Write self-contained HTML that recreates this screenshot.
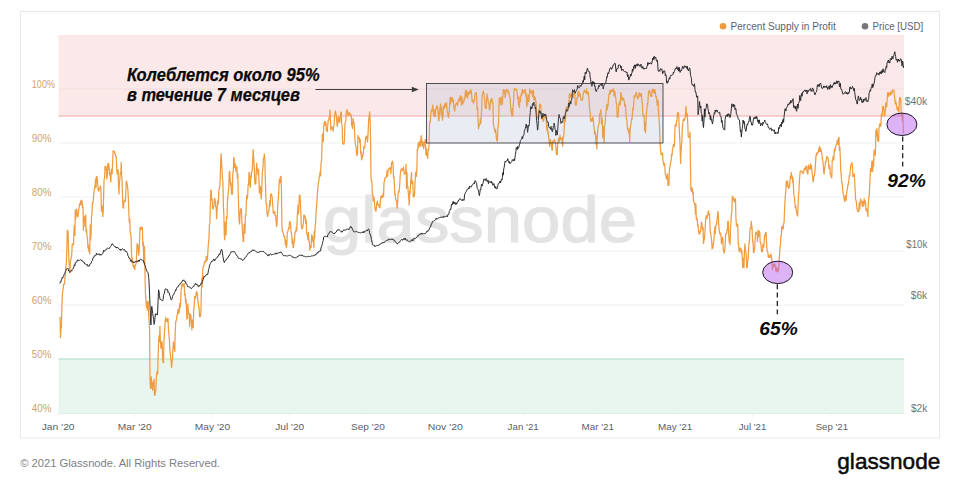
<!DOCTYPE html>
<html lang="ru"><head><meta charset="utf-8"><title>Glassnode – Percent Supply in Profit</title>
<style>
html,body{margin:0;padding:0;background:#fff;}
body{width:960px;height:487px;overflow:hidden;font-family:"Liberation Sans",sans-serif;}
svg{display:block}
text{font-family:"Liberation Sans",sans-serif;}
.yl{font-size:10.2px;fill:#cfa26e;}
.rl{font-size:10px;fill:#70737c;}
.xl{font-size:9.7px;fill:#5a5e69;}
.lg{font-size:10.2px;fill:#5e626b;}
.an{font-weight:bold;font-style:italic;fill:#0a0a0a;}
</style></head><body>
<svg width="960" height="487" viewBox="0 0 960 487">
<rect x="0" y="0" width="960" height="487" fill="#ffffff"/>
<rect x="20.5" y="11.5" width="919" height="426.5" fill="#ffffff" stroke="#e9e9eb" stroke-width="1"/>
<rect x="58.5" y="35" width="845.5" height="81" fill="#fbe9e9"/>
<rect x="58.5" y="359" width="845.5" height="54.5" fill="#e9f5ef"/>
<line x1="58.5" y1="89" x2="904" y2="89" stroke="#f3dcdc" stroke-width="1"/>
<line x1="58.5" y1="143" x2="904" y2="143" stroke="#f1f1f3" stroke-width="1"/>
<line x1="58.5" y1="197" x2="904" y2="197" stroke="#f1f1f3" stroke-width="1"/>
<line x1="58.5" y1="251" x2="904" y2="251" stroke="#f1f1f3" stroke-width="1"/>
<line x1="58.5" y1="305" x2="904" y2="305" stroke="#f1f1f3" stroke-width="1"/>
<line x1="58.5" y1="413.5" x2="904" y2="413.5" stroke="#dfeee6" stroke-width="1"/>
<line x1="58.5" y1="116" x2="904" y2="116" stroke="#efa9aa" stroke-width="1.1"/>
<line x1="58.5" y1="359" x2="904" y2="359" stroke="#a3d8bf" stroke-width="0.95"/>
<line x1="58.15" y1="413.5" x2="58.15" y2="417.5" stroke="#f2f2f4" stroke-width="1"/>
<line x1="134.7" y1="413.5" x2="134.7" y2="417.5" stroke="#f2f2f4" stroke-width="1"/>
<line x1="212.5" y1="413.5" x2="212.5" y2="417.5" stroke="#f2f2f4" stroke-width="1"/>
<line x1="289.7" y1="413.5" x2="289.7" y2="417.5" stroke="#f2f2f4" stroke-width="1"/>
<line x1="367.95" y1="413.5" x2="367.95" y2="417.5" stroke="#f2f2f4" stroke-width="1"/>
<line x1="445.29999999999995" y1="413.5" x2="445.29999999999995" y2="417.5" stroke="#f2f2f4" stroke-width="1"/>
<line x1="523.2" y1="413.5" x2="523.2" y2="417.5" stroke="#f2f2f4" stroke-width="1"/>
<line x1="597.75" y1="413.5" x2="597.75" y2="417.5" stroke="#f2f2f4" stroke-width="1"/>
<line x1="675.0999999999999" y1="413.5" x2="675.0999999999999" y2="417.5" stroke="#f2f2f4" stroke-width="1"/>
<line x1="752.55" y1="413.5" x2="752.55" y2="417.5" stroke="#f2f2f4" stroke-width="1"/>
<line x1="831.85" y1="413.5" x2="831.85" y2="417.5" stroke="#f2f2f4" stroke-width="1"/>
<text x="323" y="242" font-size="64" fill="#e3e3e4" stroke="#e3e3e4" stroke-width="1.1" textLength="314" lengthAdjust="spacingAndGlyphs">glassnode</text>
<rect x="426.5" y="83.5" width="236.5" height="59.5" fill="#aeb9d2" fill-opacity="0.19"/>
<path d="M60.0,317.1 L60.5,337.7 L60.9,329.2 L61.4,327.2 L61.8,308.7 L62.3,295.2 L62.7,291.5 L63.2,288.5 L63.6,284.2 L64.1,284.3 L64.5,283.8 L65.0,276.9 L65.4,275.7 L65.9,266.8 L66.3,263.5 L66.8,250.1 L67.2,231.1 L67.7,230.2 L68.1,232.7 L68.6,252.8 L69.0,262.9 L69.5,266.8 L69.9,272.7 L70.4,260.3 L70.8,260.4 L71.3,257.4 L71.7,255.0 L72.2,244.2 L72.6,244.7 L73.1,243.7 L73.5,244.9 L74.0,229.8 L74.4,225.3 L74.9,235.4 L75.3,209.8 L75.8,218.9 L76.2,211.8 L76.7,209.2 L77.1,214.2 L77.6,216.5 L78.0,216.5 L78.5,211.9 L78.9,208.4 L79.4,206.3 L79.8,203.4 L80.3,204.4 L80.7,201.0 L81.2,204.8 L81.6,200.1 L82.1,201.5 L82.5,207.6 L83.0,206.3 L83.4,230.3 L83.9,217.4 L84.3,220.4 L84.8,216.1 L85.2,226.5 L85.7,215.2 L86.1,231.9 L86.6,229.4 L87.0,236.1 L87.5,238.4 L87.9,248.0 L88.4,244.8 L88.8,251.2 L89.3,249.9 L89.7,253.9 L90.2,224.9 L90.6,239.6 L91.1,233.3 L91.5,217.1 L92.0,213.8 L92.4,202.6 L92.9,204.0 L93.3,200.0 L93.8,194.4 L94.2,190.8 L94.7,187.8 L95.1,184.9 L95.6,179.0 L96.0,187.7 L96.5,176.3 L96.9,176.3 L97.4,180.1 L97.8,185.1 L98.3,190.3 L98.7,191.2 L99.2,189.4 L99.6,188.0 L100.1,187.8 L100.5,185.9 L101.0,190.9 L101.4,211.2 L101.9,211.1 L102.3,206.1 L102.8,216.5 L103.2,212.0 L103.7,193.1 L104.1,178.6 L104.6,178.6 L105.0,166.3 L105.5,166.3 L105.9,166.3 L106.4,170.8 L106.8,178.9 L107.3,174.7 L107.7,163.8 L108.2,169.2 L108.6,163.5 L109.1,167.1 L109.5,175.0 L110.0,172.8 L110.4,176.6 L110.9,181.9 L111.3,169.2 L111.8,173.4 L112.2,173.9 L112.7,161.1 L113.1,150.8 L113.6,151.4 L114.0,151.1 L114.5,151.9 L114.9,154.1 L115.4,154.2 L115.8,156.3 L116.3,156.3 L116.7,169.1 L117.2,174.1 L117.6,172.3 L118.1,169.5 L118.5,185.5 L119.0,194.0 L119.4,183.8 L119.9,178.3 L120.3,172.5 L120.8,174.3 L121.2,162.5 L121.7,176.0 L122.1,181.3 L122.6,200.1 L123.0,207.4 L123.5,208.2 L123.9,201.1 L124.4,200.7 L124.8,200.3 L125.3,201.5 L125.7,194.8 L126.2,181.6 L126.6,181.1 L127.1,184.1 L127.5,186.1 L128.0,191.4 L128.4,199.6 L128.9,214.0 L129.3,222.5 L129.8,219.0 L130.2,232.0 L130.7,234.0 L131.1,237.6 L131.6,256.5 L132.0,262.5 L132.5,258.5 L132.9,264.9 L133.4,267.2 L133.8,265.4 L134.3,266.9 L134.7,269.6 L135.2,264.8 L135.6,265.1 L136.1,263.2 L136.5,257.2 L137.0,243.7 L137.4,245.8 L137.9,245.2 L138.3,252.0 L138.8,255.1 L139.2,250.7 L139.7,235.2 L140.1,227.7 L140.6,229.6 L141.0,226.9 L141.5,229.1 L141.9,229.3 L142.4,227.6 L142.8,245.5 L143.3,242.2 L143.7,262.5 L144.2,246.0 L144.6,248.3 L145.1,280.2 L145.5,294.5 L146.0,301.2 L146.4,307.4 L146.9,301.8 L147.3,310.0 L147.8,301.6 L148.2,301.4 L148.7,315.8 L149.1,320.2 L149.6,329.8 L150.0,378.8 L150.5,388.4 L150.9,386.0 L151.4,376.8 L151.8,388.2 L152.3,383.2 L152.7,390.2 L153.2,381.9 L153.6,385.5 L154.1,379.4 L154.5,395.2 L155.0,395.2 L155.4,392.5 L155.9,389.2 L156.3,377.6 L156.8,372.6 L157.2,371.3 L157.7,373.9 L158.1,354.9 L158.6,341.9 L159.0,335.6 L159.5,341.4 L159.9,326.3 L160.4,341.8 L160.8,347.4 L161.3,348.6 L161.7,341.3 L162.2,343.6 L162.6,359.3 L163.1,362.7 L163.5,362.7 L164.0,339.6 L164.4,333.1 L164.9,326.9 L165.3,320.0 L165.8,317.5 L166.2,321.3 L166.7,320.7 L167.1,319.2 L167.6,321.6 L168.0,318.5 L168.5,330.5 L168.9,334.2 L169.4,339.8 L169.8,349.6 L170.3,353.3 L170.7,357.6 L171.2,361.8 L171.6,367.7 L172.1,361.4 L172.5,358.8 L173.0,348.0 L173.4,341.9 L173.9,348.5 L174.3,345.4 L174.8,351.4 L175.2,332.3 L175.7,322.3 L176.1,320.5 L176.6,319.5 L177.0,315.7 L177.5,313.1 L177.9,310.7 L178.4,309.0 L178.8,313.4 L179.3,311.3 L179.7,303.5 L180.2,307.5 L180.6,302.9 L181.1,289.8 L181.5,289.1 L182.0,283.8 L182.4,283.8 L182.9,286.1 L183.3,283.8 L183.8,284.7 L184.2,283.8 L184.7,295.0 L185.1,293.8 L185.6,302.8 L186.0,299.1 L186.5,308.1 L186.9,319.0 L187.4,318.4 L187.8,303.9 L188.3,310.6 L188.7,313.7 L189.2,313.2 L189.6,326.5 L190.1,316.9 L190.5,314.2 L191.0,316.6 L191.4,322.7 L191.9,329.8 L192.3,320.9 L192.8,319.9 L193.2,327.4 L193.7,309.7 L194.1,308.2 L194.6,296.4 L195.0,298.7 L195.5,298.1 L195.9,295.6 L196.4,291.7 L196.8,291.9 L197.3,293.6 L197.7,299.5 L198.2,302.6 L198.6,307.2 L199.1,307.0 L199.5,316.5 L200.0,316.5 L200.4,316.5 L200.9,312.6 L201.3,293.1 L201.8,277.8 L202.2,286.7 L202.7,270.4 L203.1,267.0 L203.6,265.5 L204.0,265.5 L204.5,261.4 L204.9,262.6 L205.4,261.3 L205.8,261.4 L206.3,256.3 L206.7,260.8 L207.2,260.0 L207.6,256.3 L208.1,247.9 L208.5,242.8 L209.0,237.8 L209.4,224.7 L209.9,223.4 L210.3,206.1 L210.8,190.1 L211.2,190.1 L211.7,200.3 L212.1,199.0 L212.6,208.4 L213.0,209.0 L213.5,207.4 L213.9,206.0 L214.4,198.5 L214.8,198.8 L215.3,201.3 L215.7,206.9 L216.2,206.8 L216.6,218.7 L217.1,210.8 L217.5,201.2 L218.0,204.4 L218.4,201.6 L218.9,190.4 L219.3,188.9 L219.8,185.9 L220.2,179.1 L220.7,160.9 L221.1,153.8 L221.6,162.4 L222.0,169.5 L222.5,178.9 L222.9,181.4 L223.4,205.7 L223.8,213.2 L224.3,234.4 L224.7,239.8 L225.2,222.4 L225.6,226.2 L226.1,234.8 L226.5,216.4 L227.0,218.3 L227.4,202.9 L227.9,196.1 L228.3,192.2 L228.8,186.9 L229.2,172.4 L229.7,171.3 L230.1,178.2 L230.6,185.7 L231.0,182.3 L231.5,194.0 L231.9,194.0 L232.4,194.0 L232.8,172.5 L233.3,171.6 L233.7,157.5 L234.2,159.3 L234.6,167.7 L235.1,163.5 L235.5,167.2 L236.0,171.3 L236.4,171.7 L236.9,166.3 L237.3,178.3 L237.8,173.5 L238.2,192.6 L238.7,210.0 L239.1,221.5 L239.6,224.0 L240.0,214.4 L240.5,208.9 L240.9,212.0 L241.4,208.9 L241.8,219.2 L242.3,229.0 L242.7,235.0 L243.2,241.6 L243.6,241.6 L244.1,224.1 L244.5,224.6 L245.0,233.1 L245.4,214.8 L245.9,215.1 L246.3,204.0 L246.8,195.4 L247.2,199.0 L247.7,195.7 L248.1,184.7 L248.6,184.9 L249.0,172.6 L249.5,172.6 L249.9,185.3 L250.4,187.3 L250.8,175.8 L251.3,177.3 L251.7,171.2 L252.2,170.8 L252.6,162.9 L253.1,149.7 L253.5,154.3 L254.0,163.5 L254.4,170.9 L254.9,183.9 L255.3,183.9 L255.8,183.9 L256.2,173.0 L256.7,163.1 L257.1,170.0 L257.6,168.8 L258.0,174.6 L258.5,169.6 L258.9,178.8 L259.4,193.0 L259.8,186.6 L260.3,186.4 L260.7,192.4 L261.2,199.0 L261.6,194.8 L262.1,178.3 L262.5,171.3 L263.0,167.0 L263.4,158.5 L263.9,158.3 L264.3,154.0 L264.8,158.8 L265.2,176.0 L265.7,191.9 L266.1,203.9 L266.6,203.9 L267.0,212.4 L267.5,216.5 L267.9,215.0 L268.4,211.3 L268.8,211.8 L269.3,206.4 L269.7,200.6 L270.2,206.1 L270.6,194.7 L271.1,193.9 L271.5,194.6 L272.0,196.2 L272.4,200.9 L272.9,206.8 L273.3,213.1 L273.8,213.4 L274.2,213.1 L274.7,211.4 L275.1,215.7 L275.6,215.4 L276.0,220.2 L276.5,226.5 L276.9,225.4 L277.4,214.8 L277.8,202.9 L278.3,199.3 L278.7,193.3 L279.2,181.3 L279.6,179.1 L280.1,182.5 L280.5,176.3 L281.0,176.3 L281.4,187.2 L281.9,226.4 L282.3,230.6 L282.8,231.6 L283.2,233.2 L283.7,234.9 L284.1,237.1 L284.6,236.3 L285.0,240.1 L285.5,244.6 L285.9,240.0 L286.4,247.7 L286.8,245.6 L287.3,232.2 L287.7,231.5 L288.2,230.2 L288.6,227.7 L289.1,228.8 L289.5,221.6 L290.0,222.2 L290.4,222.2 L290.9,230.4 L291.3,232.7 L291.8,235.8 L292.2,243.4 L292.7,238.8 L293.1,247.7 L293.6,247.2 L294.0,242.0 L294.5,241.5 L294.9,233.3 L295.4,231.3 L295.8,232.2 L296.3,227.4 L296.7,230.7 L297.2,217.8 L297.6,211.3 L298.1,205.0 L298.5,213.9 L299.0,204.1 L299.4,195.0 L299.9,195.0 L300.3,199.5 L300.8,212.2 L301.2,223.9 L301.7,227.5 L302.1,228.9 L302.6,227.9 L303.0,226.0 L303.5,221.5 L303.9,215.0 L304.4,215.0 L304.8,218.0 L305.3,216.8 L305.7,223.4 L306.2,219.6 L306.6,232.2 L307.1,234.6 L307.5,235.9 L308.0,239.6 L308.4,232.3 L308.9,241.3 L309.3,241.3 L309.8,250.2 L310.2,248.2 L310.7,245.3 L311.1,247.4 L311.6,234.9 L312.0,241.6 L312.5,236.2 L312.9,240.2 L313.4,239.8 L313.8,247.7 L314.3,231.3 L314.7,237.8 L315.2,225.5 L315.6,222.8 L316.1,211.3 L316.5,208.1 L317.0,200.4 L317.4,194.4 L317.9,186.9 L318.3,183.7 L318.8,181.4 L319.2,177.2 L319.7,175.5 L320.1,171.9 L320.6,175.9 L321.0,163.2 L321.5,161.3 L321.9,149.3 L322.4,134.0 L322.8,138.8 L323.3,141.6 L323.7,126.8 L324.2,122.9 L324.6,121.7 L325.1,125.1 L325.5,121.6 L326.0,123.8 L326.4,130.4 L326.9,131.1 L327.3,131.5 L327.8,124.9 L328.2,120.2 L328.7,120.1 L329.1,117.6 L329.6,116.6 L330.0,109.9 L330.5,120.8 L330.9,130.1 L331.4,127.9 L331.8,126.7 L332.3,128.1 L332.7,128.7 L333.2,131.3 L333.6,126.4 L334.1,126.0 L334.5,116.9 L335.0,112.7 L335.4,111.0 L335.9,113.4 L336.3,115.0 L336.8,121.7 L337.2,126.3 L337.7,124.8 L338.1,117.5 L338.6,116.4 L339.0,120.6 L339.5,122.5 L339.9,121.4 L340.4,115.8 L340.8,112.0 L341.3,112.5 L341.7,124.7 L342.2,125.7 L342.6,143.1 L343.1,144.0 L343.5,143.7 L344.0,144.2 L344.4,140.8 L344.9,124.0 L345.3,122.3 L345.8,120.7 L346.2,112.3 L346.7,109.9 L347.1,109.9 L347.6,112.5 L348.0,115.9 L348.5,115.0 L348.9,113.6 L349.4,112.5 L349.8,114.5 L350.3,114.2 L350.7,116.2 L351.2,114.8 L351.6,125.4 L352.1,124.3 L352.5,128.5 L353.0,118.3 L353.4,120.1 L353.9,122.1 L354.3,125.3 L354.8,136.9 L355.2,143.6 L355.7,145.6 L356.1,147.1 L356.6,155.4 L357.0,155.4 L357.5,153.0 L357.9,135.4 L358.4,136.9 L358.8,138.3 L359.3,137.7 L359.7,142.9 L360.2,139.3 L360.6,153.5 L361.1,151.4 L361.5,159.8 L362.0,158.6 L362.4,155.2 L362.9,156.2 L363.3,153.8 L363.8,146.5 L364.2,147.1 L364.7,147.9 L365.1,143.1 L365.6,137.3 L366.0,138.3 L366.5,136.0 L366.9,136.0 L367.4,141.9 L367.8,138.6 L368.3,128.6 L368.7,119.1 L369.2,116.1 L369.6,111.9 L370.1,119.8 L370.5,136.1 L371.0,176.2 L371.4,181.2 L371.9,181.2 L372.3,194.1 L372.8,193.8 L373.2,201.0 L373.7,196.6 L374.1,198.6 L374.6,203.9 L375.0,208.9 L375.5,210.1 L375.9,211.4 L376.4,207.3 L376.8,203.1 L377.3,201.1 L377.7,204.1 L378.2,204.9 L378.6,204.2 L379.1,206.3 L379.5,207.6 L380.0,207.6 L380.4,200.5 L380.9,196.9 L381.3,195.6 L381.8,197.6 L382.2,196.9 L382.7,197.6 L383.1,193.3 L383.6,196.1 L384.0,182.1 L384.5,181.2 L384.9,178.0 L385.4,178.3 L385.8,177.9 L386.3,176.9 L386.7,174.7 L387.2,170.5 L387.6,176.3 L388.1,170.9 L388.5,168.8 L389.0,168.8 L389.4,168.2 L389.9,167.7 L390.3,168.8 L390.8,173.8 L391.2,169.1 L391.7,162.5 L392.1,162.7 L392.6,161.2 L393.0,164.2 L393.5,178.0 L393.9,176.2 L394.4,184.5 L394.8,194.9 L395.3,193.8 L395.7,199.9 L396.2,200.4 L396.6,201.2 L397.1,208.1 L397.5,205.3 L398.0,196.5 L398.4,191.3 L398.9,192.1 L399.3,190.5 L399.8,183.4 L400.2,175.5 L400.7,170.7 L401.1,169.4 L401.6,168.7 L402.0,169.6 L402.5,170.8 L402.9,169.6 L403.4,167.1 L403.8,168.5 L404.3,174.2 L404.7,173.7 L405.2,172.7 L405.6,173.7 L406.1,164.3 L406.5,188.7 L407.0,172.5 L407.4,186.3 L407.9,186.3 L408.3,193.5 L408.8,197.8 L409.2,205.1 L409.7,190.8 L410.1,193.4 L410.6,182.4 L411.0,179.1 L411.5,172.5 L411.9,183.8 L412.4,181.9 L412.8,181.2 L413.3,196.9 L413.7,193.4 L414.2,196.6 L414.6,193.4 L415.1,181.9 L415.5,173.7 L416.0,171.6 L416.4,176.3 L416.9,168.3 L417.3,149.1 L417.8,150.4 L418.2,142.9 L418.7,147.4 L419.1,143.3 L419.6,141.4 L420.0,145.2 L420.5,146.1 L420.9,138.8 L421.4,135.5 L421.8,141.1 L422.3,146.1 L422.7,141.5 L423.2,143.5 L423.6,148.7 L424.1,146.4 L424.5,141.3 L425.0,141.3 L425.4,139.3 L425.9,154.9 L426.3,148.4 L426.8,155.5 L427.2,152.8 L427.7,158.4 L428.1,149.3 L428.6,150.2 L429.0,146.6 L429.5,124.2 L429.9,121.2 L430.4,122.0 L430.8,113.8 L431.3,110.1 L431.7,111.3 L432.2,110.6 L432.6,105.1 L433.1,108.1 L433.5,113.9 L434.0,115.5 L434.4,116.5 L434.9,109.6 L435.3,116.7 L435.8,109.2 L436.2,108.1 L436.7,106.6 L437.1,105.9 L437.6,109.0 L438.0,108.7 L438.5,120.3 L438.9,120.9 L439.4,113.8 L439.8,109.9 L440.3,105.8 L440.7,103.8 L441.2,115.0 L441.6,107.7 L442.1,116.8 L442.5,120.1 L443.0,116.6 L443.4,106.5 L443.9,105.7 L444.3,108.3 L444.8,103.4 L445.2,104.0 L445.7,106.0 L446.1,107.3 L446.6,102.5 L447.0,109.9 L447.5,112.5 L447.9,114.2 L448.4,117.6 L448.8,115.5 L449.3,112.0 L449.7,103.2 L450.2,97.3 L450.6,103.8 L451.1,99.0 L451.5,97.3 L452.0,97.3 L452.4,101.5 L452.9,99.0 L453.3,100.4 L453.8,107.1 L454.2,108.7 L454.7,111.1 L455.1,106.8 L455.6,104.0 L456.0,104.0 L456.5,104.2 L456.9,102.6 L457.4,105.7 L457.8,103.9 L458.3,99.8 L458.7,101.4 L459.2,99.3 L459.6,97.3 L460.1,100.3 L460.5,95.6 L461.0,101.5 L461.4,104.9 L461.9,96.8 L462.3,102.4 L462.8,104.1 L463.2,102.7 L463.7,102.2 L464.1,98.9 L464.6,99.5 L465.0,95.6 L465.5,90.5 L465.9,96.7 L466.4,96.2 L466.8,90.5 L467.3,95.4 L467.7,98.2 L468.2,92.6 L468.6,94.4 L469.1,92.3 L469.5,94.0 L470.0,91.4 L470.4,89.7 L470.9,93.1 L471.3,90.8 L471.8,97.5 L472.2,101.6 L472.7,100.9 L473.1,100.1 L473.6,103.2 L474.0,100.9 L474.5,99.9 L474.9,94.7 L475.4,93.1 L475.8,93.1 L476.3,92.4 L476.7,98.5 L477.2,109.6 L477.6,107.4 L478.1,121.1 L478.5,128.9 L479.0,124.8 L479.4,125.9 L479.9,123.8 L480.3,118.5 L480.8,123.5 L481.2,117.7 L481.7,108.1 L482.1,95.7 L482.6,94.1 L483.0,91.7 L483.5,91.1 L483.9,93.5 L484.4,99.9 L484.8,99.9 L485.3,108.3 L485.7,108.3 L486.2,108.3 L486.6,99.7 L487.1,93.9 L487.5,97.2 L488.0,100.1 L488.4,102.8 L488.9,103.7 L489.3,109.1 L489.8,110.0 L490.2,103.7 L490.7,99.8 L491.1,101.6 L491.6,98.4 L492.0,99.3 L492.5,103.3 L492.9,102.3 L493.4,125.1 L493.8,125.7 L494.3,129.0 L494.7,131.0 L495.2,132.5 L495.6,129.3 L496.1,134.4 L496.5,139.0 L497.0,140.7 L497.4,141.1 L497.9,127.1 L498.3,126.8 L498.8,113.8 L499.2,98.7 L499.7,104.9 L500.1,97.3 L500.6,98.8 L501.0,101.2 L501.5,104.8 L501.9,97.0 L502.4,104.1 L502.8,96.5 L503.3,89.7 L503.7,89.7 L504.2,92.7 L504.6,90.6 L505.1,97.7 L505.5,95.6 L506.0,90.9 L506.4,89.7 L506.9,89.7 L507.3,91.2 L507.8,90.0 L508.2,93.1 L508.7,91.5 L509.1,94.0 L509.6,97.2 L510.0,97.4 L510.5,104.3 L510.9,110.0 L511.4,112.5 L511.8,115.9 L512.3,108.7 L512.7,115.8 L513.2,104.2 L513.6,101.5 L514.1,88.9 L514.5,89.1 L515.0,88.9 L515.4,89.9 L515.9,89.3 L516.3,88.9 L516.8,90.2 L517.2,93.1 L517.7,99.2 L518.1,96.1 L518.6,104.9 L519.0,102.0 L519.5,107.5 L519.9,97.2 L520.4,101.4 L520.8,96.5 L521.3,93.6 L521.7,95.3 L522.2,89.7 L522.6,89.7 L523.1,93.1 L523.5,92.7 L524.0,92.9 L524.4,89.7 L524.9,90.6 L525.3,89.7 L525.8,96.1 L526.2,93.4 L526.7,106.6 L527.1,97.7 L527.6,104.7 L528.0,94.8 L528.5,96.7 L528.9,101.5 L529.4,94.8 L529.8,88.9 L530.3,91.2 L530.7,92.9 L531.2,92.5 L531.6,93.1 L532.1,90.5 L532.5,96.5 L533.0,96.5 L533.4,90.5 L533.9,99.9 L534.3,96.6 L534.8,99.7 L535.2,97.3 L535.7,101.9 L536.1,101.2 L536.6,116.3 L537.0,117.1 L537.5,116.6 L537.9,116.3 L538.4,119.7 L538.8,110.5 L539.3,111.9 L539.7,104.0 L540.2,104.0 L540.6,105.7 L541.1,109.5 L541.5,113.7 L542.0,119.1 L542.4,117.1 L542.9,118.7 L543.3,121.3 L543.8,119.6 L544.2,116.8 L544.7,116.7 L545.1,114.1 L545.6,117.3 L546.0,116.7 L546.5,124.2 L546.9,130.4 L547.4,124.8 L547.8,133.6 L548.3,132.4 L548.7,137.9 L549.2,141.2 L549.6,146.4 L550.1,140.7 L550.5,139.4 L551.0,142.6 L551.4,144.6 L551.9,149.6 L552.3,150.4 L552.8,141.1 L553.2,141.6 L553.7,141.3 L554.1,140.1 L554.6,139.5 L555.0,142.6 L555.5,142.4 L555.9,146.8 L556.4,154.3 L556.8,150.0 L557.3,154.6 L557.7,144.5 L558.2,141.1 L558.6,138.1 L559.1,138.5 L559.5,141.7 L560.0,135.1 L560.4,138.7 L560.9,139.4 L561.3,139.2 L561.8,137.7 L562.2,141.7 L562.7,146.3 L563.1,137.0 L563.6,137.2 L564.0,133.6 L564.5,121.4 L564.9,118.2 L565.4,121.5 L565.8,110.8 L566.3,106.8 L566.7,109.8 L567.2,111.0 L567.6,108.3 L568.1,106.9 L568.5,108.3 L569.0,101.6 L569.4,93.9 L569.9,94.0 L570.3,96.8 L570.8,97.1 L571.2,93.9 L571.7,96.8 L572.1,95.0 L572.6,95.4 L573.0,97.6 L573.5,94.8 L573.9,92.0 L574.4,92.2 L574.8,91.9 L575.3,105.1 L575.7,105.1 L576.2,105.1 L576.6,100.8 L577.1,97.7 L577.5,98.5 L578.0,91.3 L578.4,96.1 L578.9,91.3 L579.3,93.6 L579.8,96.0 L580.2,94.2 L580.7,97.9 L581.1,100.1 L581.6,100.1 L582.0,98.9 L582.5,100.1 L582.9,96.4 L583.4,92.4 L583.8,92.6 L584.3,90.3 L584.7,91.0 L585.2,91.9 L585.6,92.6 L586.1,91.3 L586.5,88.8 L587.0,94.1 L587.4,93.3 L587.9,92.7 L588.3,92.0 L588.8,96.1 L589.2,102.6 L589.7,110.4 L590.1,111.2 L590.6,121.4 L591.0,118.3 L591.5,120.9 L591.9,119.9 L592.4,121.2 L592.8,116.8 L593.3,118.7 L593.7,125.0 L594.2,128.2 L594.6,134.2 L595.1,131.3 L595.5,135.2 L596.0,144.1 L596.4,136.2 L596.9,149.0 L597.3,136.2 L597.8,129.1 L598.2,126.3 L598.7,124.7 L599.1,123.6 L599.6,113.8 L600.0,113.8 L600.5,111.8 L600.9,109.6 L601.4,123.9 L601.8,117.7 L602.3,119.4 L602.7,138.0 L603.2,126.3 L603.6,126.3 L604.1,142.7 L604.5,126.9 L605.0,124.1 L605.4,119.3 L605.9,111.8 L606.3,111.0 L606.8,104.3 L607.2,109.7 L607.7,106.4 L608.1,105.3 L608.6,97.3 L609.0,93.8 L609.5,93.8 L609.9,90.7 L610.4,93.6 L610.8,90.0 L611.3,90.0 L611.7,90.7 L612.2,91.7 L612.6,91.0 L613.1,88.8 L613.5,88.8 L614.0,95.9 L614.4,95.6 L614.9,91.5 L615.3,96.4 L615.8,97.8 L616.2,102.9 L616.7,103.4 L617.1,116.9 L617.6,116.0 L618.0,117.3 L618.5,108.7 L618.9,103.8 L619.4,103.9 L619.8,101.2 L620.3,104.8 L620.7,92.5 L621.2,93.2 L621.6,98.6 L622.1,100.1 L622.5,97.3 L623.0,100.1 L623.4,98.5 L623.9,99.7 L624.3,100.9 L624.8,106.5 L625.2,104.1 L625.7,107.1 L626.1,117.0 L626.6,118.7 L627.0,121.4 L627.5,128.9 L627.9,129.0 L628.4,132.7 L628.8,128.8 L629.3,133.2 L629.7,141.4 L630.2,128.6 L630.6,125.0 L631.1,123.7 L631.5,118.7 L632.0,119.4 L632.4,114.6 L632.9,108.0 L633.3,109.6 L633.8,101.3 L634.2,95.7 L634.7,96.3 L635.1,97.1 L635.6,94.9 L636.0,92.5 L636.5,92.5 L636.9,95.3 L637.4,97.8 L637.8,98.9 L638.3,97.7 L638.7,95.5 L639.2,92.5 L639.6,95.4 L640.1,96.4 L640.5,94.9 L641.0,93.4 L641.4,93.8 L641.9,102.4 L642.3,102.2 L642.8,114.3 L643.2,115.2 L643.7,116.4 L644.1,115.3 L644.6,130.5 L645.0,122.2 L645.5,132.7 L645.9,125.0 L646.4,113.3 L646.8,111.2 L647.3,103.3 L647.7,104.8 L648.2,97.0 L648.6,91.6 L649.1,92.0 L649.5,90.5 L650.0,92.3 L650.4,94.9 L650.9,96.4 L651.3,96.4 L651.8,96.4 L652.2,89.3 L652.7,90.3 L653.1,92.6 L653.6,89.3 L654.0,91.0 L654.5,93.1 L654.9,89.8 L655.4,92.5 L655.8,97.0 L656.3,96.4 L656.7,100.1 L657.2,105.1 L657.6,103.3 L658.1,100.2 L658.5,111.4 L659.0,118.8 L659.4,124.2 L659.9,139.0 L660.3,146.4 L660.8,152.1 L661.2,154.8 L661.7,153.7 L662.1,153.1 L662.6,153.2 L663.0,161.0 L663.5,162.4 L663.9,165.3 L664.4,163.3 L664.8,166.2 L665.3,174.5 L665.7,174.5 L666.2,177.7 L666.6,178.9 L667.1,177.0 L667.5,173.9 L668.0,185.4 L668.4,184.2 L668.9,185.4 L669.3,170.8 L669.8,167.3 L670.2,165.3 L670.7,161.8 L671.1,160.7 L671.6,154.1 L672.0,155.8 L672.5,149.1 L672.9,148.0 L673.4,144.6 L673.8,145.6 L674.3,146.5 L674.7,137.0 L675.2,124.7 L675.6,124.8 L676.1,126.2 L676.5,121.4 L677.0,120.2 L677.4,113.4 L677.9,112.6 L678.3,112.6 L678.8,117.9 L679.2,128.3 L679.7,137.3 L680.1,146.3 L680.6,163.6 L681.0,152.1 L681.5,145.1 L681.9,140.1 L682.4,126.6 L682.8,123.8 L683.3,119.2 L683.7,119.0 L684.2,120.5 L684.6,119.6 L685.1,117.7 L685.5,113.6 L686.0,106.3 L686.4,116.4 L686.9,116.4 L687.3,113.8 L687.8,124.1 L688.2,136.8 L688.7,137.3 L689.1,136.9 L689.6,137.1 L690.0,132.1 L690.5,168.2 L690.9,189.3 L691.4,191.4 L691.8,187.9 L692.3,188.2 L692.7,194.0 L693.2,192.1 L693.6,201.4 L694.1,201.9 L694.5,203.9 L695.0,203.4 L695.4,214.2 L695.9,203.8 L696.3,218.9 L696.8,219.7 L697.2,218.7 L697.7,226.2 L698.1,224.7 L698.6,231.1 L699.0,233.9 L699.5,233.9 L699.9,233.9 L700.4,230.5 L700.8,231.0 L701.3,223.1 L701.7,221.9 L702.2,226.6 L702.6,229.8 L703.1,227.6 L703.5,243.5 L704.0,240.1 L704.4,238.3 L704.9,232.8 L705.3,225.9 L705.8,217.2 L706.2,218.1 L706.7,215.6 L707.1,218.5 L707.6,214.6 L708.0,213.2 L708.5,210.8 L708.9,214.6 L709.4,214.0 L709.8,221.3 L710.3,232.0 L710.7,233.4 L711.2,237.6 L711.6,239.8 L712.1,248.9 L712.5,247.1 L713.0,247.9 L713.4,242.6 L713.9,241.4 L714.3,233.4 L714.8,227.0 L715.2,233.7 L715.7,226.4 L716.1,224.7 L716.6,224.4 L717.0,220.8 L717.5,215.5 L717.9,211.3 L718.4,216.4 L718.8,226.4 L719.3,231.2 L719.7,233.1 L720.2,234.8 L720.6,233.0 L721.1,237.6 L721.5,243.9 L722.0,239.7 L722.4,237.3 L722.9,240.3 L723.3,250.5 L723.8,250.7 L724.2,253.2 L724.7,250.4 L725.1,246.4 L725.6,234.7 L726.0,233.4 L726.5,233.7 L726.9,230.1 L727.4,230.4 L727.8,221.3 L728.3,221.4 L728.7,233.9 L729.2,242.2 L729.6,236.4 L730.1,244.6 L730.5,227.5 L731.0,221.4 L731.4,213.5 L731.9,212.6 L732.3,196.6 L732.8,196.3 L733.2,199.0 L733.7,198.4 L734.1,201.4 L734.6,198.8 L735.0,202.1 L735.5,198.8 L735.9,217.3 L736.4,225.5 L736.8,225.9 L737.3,226.6 L737.7,223.8 L738.2,243.8 L738.6,243.8 L739.1,251.5 L739.5,251.5 L740.0,248.1 L740.4,248.8 L740.9,248.2 L741.3,253.2 L741.8,250.4 L742.2,256.4 L742.7,266.6 L743.1,267.7 L743.6,258.2 L744.0,267.7 L744.5,250.3 L744.9,243.8 L745.4,250.5 L745.8,251.5 L746.3,255.1 L746.7,267.7 L747.2,267.7 L747.6,262.2 L748.1,259.2 L748.5,251.5 L749.0,242.6 L749.4,242.1 L749.9,231.6 L750.3,228.1 L750.8,228.6 L751.2,221.3 L751.7,225.7 L752.1,228.2 L752.6,241.8 L753.0,241.3 L753.5,252.7 L753.9,252.7 L754.4,250.2 L754.8,246.0 L755.3,236.2 L755.7,231.9 L756.2,232.4 L756.6,233.6 L757.1,233.9 L757.5,241.4 L758.0,230.0 L758.4,236.9 L758.9,235.0 L759.3,231.1 L759.8,232.3 L760.2,242.4 L760.7,242.2 L761.1,246.3 L761.6,251.5 L762.0,251.5 L762.5,251.5 L762.9,244.3 L763.4,247.4 L763.8,246.7 L764.3,238.9 L764.7,235.0 L765.2,236.2 L765.6,232.6 L766.1,232.6 L766.5,241.8 L767.0,250.6 L767.4,251.1 L767.9,252.8 L768.3,257.1 L768.8,255.2 L769.2,257.5 L769.7,257.4 L770.1,255.6 L770.6,257.2 L771.0,253.9 L771.5,257.6 L771.9,260.7 L772.4,269.8 L772.8,264.5 L773.3,267.2 L773.7,264.4 L774.2,266.0 L774.6,264.0 L775.1,264.5 L775.5,268.7 L776.0,271.5 L776.4,267.3 L776.9,271.1 L777.3,268.9 L777.8,272.0 L778.2,267.7 L778.7,270.0 L779.1,260.3 L779.6,254.5 L780.0,247.6 L780.5,244.4 L780.9,235.6 L781.4,236.0 L781.8,226.3 L782.3,226.3 L782.7,228.9 L783.2,228.9 L783.6,223.9 L784.1,222.5 L784.5,210.9 L785.0,201.4 L785.4,194.7 L785.9,190.8 L786.3,181.2 L786.8,181.6 L787.2,186.0 L787.7,181.2 L788.1,186.6 L788.6,188.3 L789.0,187.9 L789.5,187.1 L789.9,182.7 L790.4,176.1 L790.8,177.0 L791.3,172.5 L791.7,178.2 L792.2,175.9 L792.6,182.3 L793.1,178.4 L793.5,188.9 L794.0,195.9 L794.4,198.0 L794.9,202.6 L795.3,207.7 L795.8,205.9 L796.2,209.9 L796.7,212.4 L797.1,215.0 L797.6,216.1 L798.0,208.1 L798.5,195.7 L798.9,191.4 L799.4,181.0 L799.8,175.8 L800.3,171.2 L800.7,171.2 L801.2,171.2 L801.6,171.4 L802.1,171.4 L802.5,172.4 L803.0,173.8 L803.4,172.7 L803.9,170.3 L804.3,168.7 L804.8,168.4 L805.2,170.0 L805.7,166.6 L806.1,166.2 L806.6,166.5 L807.0,171.8 L807.5,173.8 L807.9,173.8 L808.4,165.0 L808.8,167.3 L809.3,169.0 L809.7,168.7 L810.2,166.4 L810.6,163.8 L811.1,169.6 L811.5,165.3 L812.0,172.5 L812.4,175.0 L812.9,181.0 L813.3,181.6 L813.8,176.9 L814.2,175.9 L814.7,174.2 L815.1,168.9 L815.6,161.8 L816.0,155.9 L816.5,153.1 L816.9,155.1 L817.4,152.5 L817.8,152.1 L818.3,152.3 L818.7,148.8 L819.2,151.4 L819.6,146.3 L820.1,151.4 L820.5,148.6 L821.0,149.2 L821.4,152.3 L821.9,153.5 L822.3,158.8 L822.8,161.2 L823.2,163.4 L823.7,171.7 L824.1,174.0 L824.6,167.5 L825.0,166.9 L825.5,161.3 L825.9,161.7 L826.4,159.7 L826.8,156.4 L827.3,158.0 L827.7,157.7 L828.2,158.5 L828.6,163.4 L829.1,168.9 L829.5,165.2 L830.0,169.0 L830.4,174.6 L830.9,175.0 L831.3,177.7 L831.8,177.7 L832.2,160.2 L832.7,160.0 L833.1,156.2 L833.6,160.1 L834.0,156.0 L834.5,148.8 L834.9,151.4 L835.4,148.3 L835.8,145.8 L836.3,145.2 L836.7,144.7 L837.2,140.8 L837.6,140.4 L838.1,144.2 L838.5,137.5 L839.0,137.5 L839.4,150.3 L839.9,147.0 L840.3,157.6 L840.8,171.4 L841.2,174.0 L841.7,182.1 L842.1,183.1 L842.6,188.0 L843.0,192.9 L843.5,194.7 L843.9,197.6 L844.4,200.5 L844.8,201.5 L845.3,195.7 L845.7,196.8 L846.2,200.2 L846.6,193.6 L847.1,190.1 L847.5,188.3 L848.0,183.8 L848.4,184.7 L848.9,179.8 L849.3,175.4 L849.8,175.8 L850.2,171.4 L850.7,165.0 L851.1,164.8 L851.6,164.3 L852.0,162.5 L852.5,168.0 L852.9,176.4 L853.4,176.4 L853.8,176.4 L854.3,173.8 L854.7,181.7 L855.2,191.3 L855.6,199.2 L856.1,200.6 L856.5,203.7 L857.0,208.7 L857.4,210.3 L857.9,211.5 L858.3,211.5 L858.8,211.5 L859.2,202.5 L859.7,209.3 L860.1,204.2 L860.6,198.9 L861.0,200.5 L861.5,201.4 L861.9,203.0 L862.4,206.5 L862.8,201.5 L863.3,204.7 L863.7,205.9 L864.2,198.9 L864.6,203.5 L865.1,200.7 L865.5,202.0 L866.0,210.7 L866.4,210.8 L866.9,208.9 L867.3,210.6 L867.8,216.5 L868.2,205.7 L868.7,199.5 L869.1,195.9 L869.6,189.1 L870.0,178.8 L870.5,168.5 L870.9,170.8 L871.4,171.4 L871.8,161.3 L872.3,167.8 L872.7,171.4 L873.2,159.8 L873.6,166.2 L874.1,149.9 L874.5,154.4 L875.0,155.7 L875.4,153.6 L875.9,130.3 L876.3,136.2 L876.8,128.7 L877.2,131.2 L877.7,140.8 L878.1,141.0 L878.6,141.4 L879.0,128.5 L879.5,125.6 L879.9,123.7 L880.4,125.7 L880.8,126.3 L881.3,116.5 L881.7,113.7 L882.2,116.2 L882.6,106.3 L883.1,109.5 L883.5,106.7 L884.0,110.8 L884.4,116.4 L884.9,113.9 L885.3,110.5 L885.8,103.0 L886.2,104.9 L886.7,106.8 L887.1,100.1 L887.6,92.9 L888.0,94.9 L888.5,96.4 L888.9,92.5 L889.4,94.5 L889.8,93.7 L890.3,95.1 L890.7,92.7 L891.2,91.3 L891.6,93.9 L892.1,92.5 L892.5,90.0 L893.0,90.0 L893.4,90.0 L893.9,90.0 L894.3,95.0 L894.8,97.9 L895.2,103.8 L895.7,101.3 L896.1,103.1 L896.6,106.3 L897.0,108.3 L897.5,110.3 L897.9,107.9 L898.4,107.4 L898.8,112.1 L899.3,102.0 L899.7,97.5 L900.2,98.7 L900.6,98.1 L901.1,109.8 L901.5,115.6 L902.0,116.4 L902.4,120.5 L902.9,113.8 L903.3,132.7 L903.5,131.4" fill="none" stroke="#ef9d40" stroke-width="1.25" stroke-linejoin="round" stroke-linecap="round"/>
<path d="M60.0,283.1 L60.5,281.9 L60.9,282.0 L61.4,279.3 L61.8,279.3 L62.3,277.1 L62.7,278.0 L63.2,276.8 L63.6,276.4 L64.1,274.4 L64.5,273.9 L65.0,272.6 L65.4,271.3 L65.9,270.9 L66.3,269.2 L66.8,268.8 L67.2,268.6 L67.7,268.0 L68.1,268.5 L68.6,271.0 L69.0,270.9 L69.5,271.2 L69.9,272.4 L70.4,271.8 L70.8,271.2 L71.3,270.5 L71.7,271.2 L72.2,269.6 L72.6,268.9 L73.1,268.3 L73.5,268.3 L74.0,266.1 L74.4,264.7 L74.9,265.7 L75.3,262.7 L75.8,262.1 L76.2,261.9 L76.7,262.2 L77.1,260.8 L77.6,259.8 L78.0,260.8 L78.5,260.4 L78.9,260.2 L79.4,260.4 L79.8,260.2 L80.3,260.1 L80.7,259.6 L81.2,260.1 L81.6,260.8 L82.1,260.6 L82.5,260.7 L83.0,261.8 L83.4,262.3 L83.9,262.0 L84.3,262.6 L84.8,264.0 L85.2,264.0 L85.7,264.1 L86.1,264.6 L86.6,264.8 L87.0,265.1 L87.5,264.5 L87.9,266.4 L88.4,266.2 L88.8,266.0 L89.3,266.0 L89.7,264.9 L90.2,263.8 L90.6,263.5 L91.1,263.4 L91.5,261.6 L92.0,261.2 L92.4,260.8 L92.9,258.2 L93.3,257.5 L93.8,257.6 L94.2,255.8 L94.7,255.7 L95.1,256.1 L95.6,255.6 L96.0,254.7 L96.5,253.1 L96.9,254.8 L97.4,254.5 L97.8,254.6 L98.3,254.6 L98.7,253.7 L99.2,253.8 L99.6,254.0 L100.1,255.4 L100.5,254.6 L101.0,254.8 L101.4,254.8 L101.9,254.7 L102.3,254.1 L102.8,253.4 L103.2,252.0 L103.7,250.2 L104.1,251.1 L104.6,250.9 L105.0,250.9 L105.5,250.0 L105.9,249.4 L106.4,249.5 L106.8,248.5 L107.3,248.3 L107.7,248.1 L108.2,248.4 L108.6,249.1 L109.1,248.4 L109.5,248.1 L110.0,247.3 L110.4,246.8 L110.9,246.0 L111.3,245.6 L111.8,244.1 L112.2,244.1 L112.7,243.8 L113.1,245.1 L113.6,245.5 L114.0,246.0 L114.5,246.6 L114.9,246.1 L115.4,246.8 L115.8,247.7 L116.3,247.1 L116.7,247.9 L117.2,247.7 L117.6,247.2 L118.1,248.3 L118.5,248.3 L119.0,249.1 L119.4,249.2 L119.9,249.9 L120.3,249.0 L120.8,250.5 L121.2,250.3 L121.7,249.3 L122.1,248.7 L122.6,248.8 L123.0,249.4 L123.5,249.8 L123.9,250.1 L124.4,249.4 L124.8,249.9 L125.3,251.6 L125.7,251.7 L126.2,251.1 L126.6,251.8 L127.1,252.3 L127.5,253.5 L128.0,255.9 L128.4,256.3 L128.9,258.0 L129.3,258.5 L129.8,258.2 L130.2,259.6 L130.7,261.4 L131.1,260.5 L131.6,260.5 L132.0,261.8 L132.5,261.7 L132.9,261.9 L133.4,262.9 L133.8,261.8 L134.3,262.5 L134.7,261.9 L135.2,261.5 L135.6,261.5 L136.1,262.3 L136.5,261.7 L137.0,260.8 L137.4,260.8 L137.9,261.8 L138.3,261.5 L138.8,260.2 L139.2,261.4 L139.7,260.1 L140.1,259.2 L140.6,259.2 L141.0,259.5 L141.5,259.7 L141.9,260.3 L142.4,260.1 L142.8,260.5 L143.3,260.6 L143.7,262.0 L144.2,262.7 L144.6,264.9 L145.1,265.4 L145.5,267.3 L146.0,268.7 L146.4,270.0 L146.9,271.0 L147.3,271.7 L147.8,272.2 L148.2,273.7 L148.7,277.5 L149.1,283.1 L149.6,294.9 L150.0,304.7 L150.5,317.6 L150.9,324.9 L151.4,310.3 L151.8,306.4 L152.3,310.1 L152.7,313.6 L153.2,316.3 L153.6,319.4 L154.1,324.4 L154.5,322.6 L155.0,317.7 L155.4,313.7 L155.9,314.4 L156.3,314.2 L156.8,314.4 L157.2,315.2 L157.7,311.1 L158.1,300.2 L158.6,289.8 L159.0,291.7 L159.5,295.4 L159.9,298.6 L160.4,300.0 L160.8,299.6 L161.3,300.0 L161.7,300.2 L162.2,300.6 L162.6,300.8 L163.1,299.6 L163.5,295.5 L164.0,293.8 L164.4,293.3 L164.9,290.1 L165.3,289.0 L165.8,288.6 L166.2,289.1 L166.7,289.7 L167.1,289.4 L167.6,289.6 L168.0,292.5 L168.5,291.8 L168.9,292.6 L169.4,293.8 L169.8,295.5 L170.3,296.7 L170.7,298.7 L171.2,299.9 L171.6,299.8 L172.1,298.5 L172.5,296.5 L173.0,295.1 L173.4,294.4 L173.9,294.4 L174.3,292.9 L174.8,292.2 L175.2,291.2 L175.7,289.7 L176.1,290.2 L176.6,288.4 L177.0,287.5 L177.5,287.0 L177.9,287.2 L178.4,286.1 L178.8,285.1 L179.3,285.0 L179.7,284.9 L180.2,283.7 L180.6,282.9 L181.1,283.0 L181.5,282.5 L182.0,281.9 L182.4,280.4 L182.9,280.2 L183.3,280.6 L183.8,279.8 L184.2,281.2 L184.7,281.2 L185.1,281.1 L185.6,283.3 L186.0,283.1 L186.5,283.3 L186.9,284.4 L187.4,285.8 L187.8,286.9 L188.3,286.8 L188.7,286.6 L189.2,286.9 L189.6,287.1 L190.1,287.3 L190.5,288.0 L191.0,288.2 L191.4,288.8 L191.9,288.1 L192.3,287.4 L192.8,287.1 L193.2,286.5 L193.7,286.7 L194.1,285.2 L194.6,285.0 L195.0,284.3 L195.5,283.3 L195.9,284.5 L196.4,284.7 L196.8,283.9 L197.3,285.3 L197.7,285.9 L198.2,285.5 L198.6,286.8 L199.1,286.6 L199.5,285.4 L200.0,285.7 L200.4,284.9 L200.9,283.9 L201.3,282.9 L201.8,283.4 L202.2,281.5 L202.7,281.1 L203.1,279.8 L203.6,277.7 L204.0,276.2 L204.5,276.9 L204.9,276.8 L205.4,276.1 L205.8,275.2 L206.3,274.5 L206.7,274.4 L207.2,275.1 L207.6,274.4 L208.1,272.8 L208.5,269.8 L209.0,268.9 L209.4,266.1 L209.9,264.8 L210.3,263.6 L210.8,262.9 L211.2,262.0 L211.7,261.2 L212.1,260.9 L212.6,261.4 L213.0,260.4 L213.5,259.2 L213.9,260.2 L214.4,259.6 L214.8,260.7 L215.3,259.0 L215.7,258.6 L216.2,258.3 L216.6,258.4 L217.1,257.8 L217.5,257.1 L218.0,256.0 L218.4,256.0 L218.9,254.9 L219.3,253.8 L219.8,254.6 L220.2,253.0 L220.7,252.0 L221.1,249.9 L221.6,249.2 L222.0,250.5 L222.5,252.9 L222.9,256.4 L223.4,258.9 L223.8,261.1 L224.3,262.6 L224.7,261.1 L225.2,260.7 L225.6,260.8 L226.1,259.9 L226.5,259.0 L227.0,259.0 L227.4,257.8 L227.9,257.2 L228.3,257.3 L228.8,255.8 L229.2,255.9 L229.7,254.6 L230.1,253.8 L230.6,253.1 L231.0,251.6 L231.5,252.0 L231.9,251.5 L232.4,251.6 L232.8,251.7 L233.3,252.1 L233.7,251.5 L234.2,252.0 L234.6,251.8 L235.1,252.7 L235.5,253.5 L236.0,254.8 L236.4,255.1 L236.9,255.4 L237.3,256.2 L237.8,256.4 L238.2,258.1 L238.7,258.3 L239.1,258.4 L239.6,258.6 L240.0,258.4 L240.5,258.6 L240.9,259.4 L241.4,259.0 L241.8,259.1 L242.3,260.3 L242.7,260.8 L243.2,260.2 L243.6,259.6 L244.1,258.9 L244.5,259.0 L245.0,257.5 L245.4,257.1 L245.9,256.7 L246.3,256.7 L246.8,255.4 L247.2,254.9 L247.7,254.0 L248.1,253.4 L248.6,253.0 L249.0,253.0 L249.5,253.1 L249.9,252.1 L250.4,251.7 L250.8,251.4 L251.3,251.5 L251.7,251.4 L252.2,250.1 L252.6,250.4 L253.1,249.7 L253.5,250.5 L254.0,250.1 L254.4,250.2 L254.9,250.6 L255.3,251.1 L255.8,251.0 L256.2,251.7 L256.7,252.0 L257.1,252.2 L257.6,252.5 L258.0,252.9 L258.5,252.2 L258.9,252.3 L259.4,252.2 L259.8,251.2 L260.3,252.0 L260.7,251.6 L261.2,251.4 L261.6,251.4 L262.1,251.5 L262.5,251.6 L263.0,251.5 L263.4,251.3 L263.9,252.2 L264.3,252.5 L264.8,252.5 L265.2,252.9 L265.7,253.7 L266.1,253.9 L266.6,254.3 L267.0,254.4 L267.5,255.2 L267.9,256.1 L268.4,255.4 L268.8,254.4 L269.3,255.4 L269.7,254.7 L270.2,254.1 L270.6,253.6 L271.1,254.5 L271.5,254.9 L272.0,254.9 L272.4,254.3 L272.9,254.8 L273.3,254.3 L273.8,253.9 L274.2,254.0 L274.7,254.0 L275.1,253.9 L275.6,254.0 L276.0,252.8 L276.5,254.1 L276.9,253.3 L277.4,253.6 L277.8,253.0 L278.3,253.1 L278.7,252.9 L279.2,252.2 L279.6,252.8 L280.1,252.9 L280.5,252.2 L281.0,251.8 L281.4,252.8 L281.9,253.2 L282.3,254.0 L282.8,254.4 L283.2,255.6 L283.7,255.7 L284.1,255.6 L284.6,256.1 L285.0,255.2 L285.5,255.7 L285.9,255.7 L286.4,255.9 L286.8,256.1 L287.3,256.0 L287.7,256.1 L288.2,255.4 L288.6,255.6 L289.1,255.4 L289.5,255.3 L290.0,255.3 L290.4,255.3 L290.9,255.7 L291.3,255.8 L291.8,256.5 L292.2,256.3 L292.7,256.6 L293.1,257.9 L293.6,257.5 L294.0,257.5 L294.5,257.9 L294.9,257.3 L295.4,257.7 L295.8,257.6 L296.3,257.3 L296.7,257.3 L297.2,257.0 L297.6,257.0 L298.1,256.0 L298.5,256.1 L299.0,255.5 L299.4,256.0 L299.9,255.4 L300.3,254.7 L300.8,255.3 L301.2,255.0 L301.7,255.9 L302.1,255.6 L302.6,254.9 L303.0,255.6 L303.5,256.4 L303.9,256.3 L304.4,256.0 L304.8,256.6 L305.3,256.7 L305.7,257.0 L306.2,256.9 L306.6,256.6 L307.1,256.2 L307.5,256.5 L308.0,256.5 L308.4,256.4 L308.9,256.6 L309.3,256.0 L309.8,256.5 L310.2,256.4 L310.7,256.4 L311.1,256.1 L311.6,255.9 L312.0,256.0 L312.5,256.1 L312.9,255.6 L313.4,255.7 L313.8,255.2 L314.3,255.5 L314.7,255.3 L315.2,254.5 L315.6,255.2 L316.1,254.1 L316.5,254.0 L317.0,253.1 L317.4,252.4 L317.9,253.2 L318.3,252.1 L318.8,251.3 L319.2,251.7 L319.7,250.9 L320.1,250.9 L320.6,251.0 L321.0,248.0 L321.5,246.7 L321.9,245.4 L322.4,243.6 L322.8,241.3 L323.3,240.5 L323.7,237.0 L324.2,236.6 L324.6,236.5 L325.1,235.9 L325.5,236.4 L326.0,236.4 L326.4,236.6 L326.9,236.7 L327.3,237.0 L327.8,234.9 L328.2,234.5 L328.7,233.8 L329.1,232.7 L329.6,232.5 L330.0,231.5 L330.5,231.7 L330.9,231.2 L331.4,231.7 L331.8,232.4 L332.3,232.6 L332.7,232.8 L333.2,233.3 L333.6,233.6 L334.1,233.1 L334.5,233.9 L335.0,232.5 L335.4,232.6 L335.9,232.2 L336.3,231.9 L336.8,230.8 L337.2,229.9 L337.7,230.2 L338.1,230.4 L338.6,229.5 L339.0,229.3 L339.5,230.3 L339.9,230.6 L340.4,230.9 L340.8,231.3 L341.3,231.0 L341.7,232.3 L342.2,231.7 L342.6,231.6 L343.1,231.0 L343.5,229.8 L344.0,230.4 L344.4,230.1 L344.9,230.3 L345.3,230.0 L345.8,230.2 L346.2,229.4 L346.7,229.4 L347.1,229.4 L347.6,229.0 L348.0,228.9 L348.5,229.2 L348.9,229.8 L349.4,228.3 L349.8,228.1 L350.3,226.6 L350.7,226.2 L351.2,227.0 L351.6,228.0 L352.1,227.9 L352.5,229.4 L353.0,230.0 L353.4,231.4 L353.9,231.9 L354.3,231.9 L354.8,231.6 L355.2,231.9 L355.7,231.6 L356.1,231.7 L356.6,231.4 L357.0,231.7 L357.5,231.9 L357.9,232.4 L358.4,232.6 L358.8,232.1 L359.3,232.5 L359.7,232.7 L360.2,233.0 L360.6,232.7 L361.1,232.7 L361.5,232.5 L362.0,232.9 L362.4,232.1 L362.9,232.5 L363.3,231.4 L363.8,232.8 L364.2,232.6 L364.7,231.2 L365.1,231.4 L365.6,231.0 L366.0,230.6 L366.5,230.9 L366.9,230.3 L367.4,230.8 L367.8,229.7 L368.3,228.9 L368.7,228.9 L369.2,230.4 L369.6,232.8 L370.1,234.6 L370.5,234.7 L371.0,236.9 L371.4,239.5 L371.9,241.0 L372.3,244.3 L372.8,245.1 L373.2,245.3 L373.7,245.3 L374.1,245.6 L374.6,245.2 L375.0,246.7 L375.5,246.0 L375.9,245.9 L376.4,245.6 L376.8,245.9 L377.3,245.1 L377.7,245.5 L378.2,245.8 L378.6,245.3 L379.1,244.5 L379.5,244.9 L380.0,244.0 L380.4,243.8 L380.9,243.7 L381.3,243.3 L381.8,243.5 L382.2,242.7 L382.7,242.2 L383.1,243.2 L383.6,242.5 L384.0,242.3 L384.5,242.4 L384.9,241.8 L385.4,241.1 L385.8,241.1 L386.3,240.6 L386.7,240.9 L387.2,240.3 L387.6,240.0 L388.1,240.3 L388.5,239.3 L389.0,238.9 L389.4,239.7 L389.9,239.9 L390.3,239.4 L390.8,238.8 L391.2,239.4 L391.7,239.4 L392.1,239.9 L392.6,238.9 L393.0,239.7 L393.5,239.7 L393.9,239.9 L394.4,241.0 L394.8,241.5 L395.3,241.3 L395.7,241.8 L396.2,243.0 L396.6,243.3 L397.1,243.3 L397.5,244.0 L398.0,243.7 L398.4,242.5 L398.9,242.3 L399.3,242.3 L399.8,242.1 L400.2,240.8 L400.7,240.4 L401.1,240.0 L401.6,239.4 L402.0,240.2 L402.5,240.0 L402.9,240.2 L403.4,238.7 L403.8,238.8 L404.3,239.8 L404.7,238.6 L405.2,238.0 L405.6,239.1 L406.1,240.2 L406.5,240.2 L407.0,239.7 L407.4,240.5 L407.9,240.9 L408.3,241.1 L408.8,241.5 L409.2,241.7 L409.7,241.7 L410.1,241.7 L410.6,241.4 L411.0,240.7 L411.5,239.8 L411.9,240.5 L412.4,239.6 L412.8,241.0 L413.3,239.4 L413.7,238.5 L414.2,238.1 L414.6,238.8 L415.1,238.7 L415.5,238.6 L416.0,238.1 L416.4,237.3 L416.9,237.5 L417.3,236.5 L417.8,235.5 L418.2,236.1 L418.7,235.7 L419.1,234.6 L419.6,234.3 L420.0,234.5 L420.5,234.3 L420.9,233.6 L421.4,234.2 L421.8,233.0 L422.3,233.7 L422.7,234.0 L423.2,233.8 L423.6,233.9 L424.1,233.3 L424.5,233.7 L425.0,234.0 L425.4,233.2 L425.9,233.2 L426.3,232.7 L426.8,231.2 L427.2,231.3 L427.7,231.6 L428.1,230.2 L428.6,230.4 L429.0,230.2 L429.5,228.1 L429.9,227.4 L430.4,227.2 L430.8,226.1 L431.3,223.9 L431.7,223.9 L432.2,222.5 L432.6,221.4 L433.1,221.7 L433.5,221.2 L434.0,220.7 L434.4,220.6 L434.9,220.2 L435.3,220.2 L435.8,219.3 L436.2,218.1 L436.7,219.2 L437.1,219.0 L437.6,218.7 L438.0,218.4 L438.5,218.1 L438.9,218.0 L439.4,217.5 L439.8,217.9 L440.3,217.6 L440.7,217.0 L441.2,217.3 L441.6,217.0 L442.1,216.9 L442.5,217.0 L443.0,217.9 L443.4,216.3 L443.9,216.5 L444.3,216.7 L444.8,216.6 L445.2,217.1 L445.7,216.3 L446.1,216.2 L446.6,216.3 L447.0,215.8 L447.5,216.7 L447.9,214.5 L448.4,214.5 L448.8,214.2 L449.3,211.5 L449.7,210.6 L450.2,209.4 L450.6,209.9 L451.1,207.5 L451.5,204.1 L452.0,205.0 L452.4,204.0 L452.9,201.9 L453.3,201.3 L453.8,204.1 L454.2,203.4 L454.7,202.2 L455.1,203.8 L455.6,204.5 L456.0,202.6 L456.5,204.3 L456.9,203.7 L457.4,202.5 L457.8,201.3 L458.3,201.4 L458.7,200.0 L459.2,200.0 L459.6,199.2 L460.1,198.5 L460.5,199.3 L461.0,199.8 L461.4,200.0 L461.9,199.9 L462.3,200.8 L462.8,199.2 L463.2,199.8 L463.7,200.2 L464.1,200.4 L464.6,194.3 L465.0,194.1 L465.5,192.7 L465.9,191.7 L466.4,191.4 L466.8,190.1 L467.3,189.2 L467.7,189.0 L468.2,189.1 L468.6,187.8 L469.1,188.7 L469.5,186.1 L470.0,187.3 L470.4,186.8 L470.9,186.7 L471.3,186.9 L471.8,185.3 L472.2,185.2 L472.7,184.9 L473.1,183.9 L473.6,183.3 L474.0,182.8 L474.5,183.8 L474.9,180.8 L475.4,180.7 L475.8,181.6 L476.3,182.5 L476.7,183.6 L477.2,188.5 L477.6,188.9 L478.1,190.0 L478.5,190.2 L479.0,194.3 L479.4,195.7 L479.9,192.5 L480.3,189.2 L480.8,189.8 L481.2,186.3 L481.7,184.2 L482.1,186.1 L482.6,184.1 L483.0,183.4 L483.5,180.8 L483.9,178.9 L484.4,179.4 L484.8,179.2 L485.3,180.7 L485.7,179.0 L486.2,178.4 L486.6,179.5 L487.1,181.6 L487.5,180.9 L488.0,180.0 L488.4,183.7 L488.9,181.3 L489.3,181.6 L489.8,182.5 L490.2,182.6 L490.7,182.3 L491.1,181.1 L491.6,183.2 L492.0,182.3 L492.5,183.6 L492.9,185.4 L493.4,184.8 L493.8,183.5 L494.3,185.1 L494.7,187.3 L495.2,188.3 L495.6,186.5 L496.1,188.3 L496.5,188.8 L497.0,189.0 L497.4,187.1 L497.9,185.5 L498.3,183.5 L498.8,183.4 L499.2,183.3 L499.7,181.8 L500.1,181.0 L500.6,182.9 L501.0,180.8 L501.5,179.1 L501.9,180.2 L502.4,177.7 L502.8,172.6 L503.3,175.1 L503.7,169.0 L504.2,167.3 L504.6,163.8 L505.1,161.4 L505.5,162.1 L506.0,161.0 L506.4,161.1 L506.9,161.0 L507.3,160.2 L507.8,158.7 L508.2,161.0 L508.7,161.7 L509.1,163.1 L509.6,161.6 L510.0,163.7 L510.5,163.2 L510.9,162.4 L511.4,162.1 L511.8,161.7 L512.3,159.7 L512.7,160.1 L513.2,159.9 L513.6,160.8 L514.1,158.9 L514.5,160.6 L515.0,157.3 L515.4,154.3 L515.9,151.8 L516.3,147.5 L516.8,148.2 L517.2,149.6 L517.7,146.4 L518.1,148.6 L518.6,147.7 L519.0,146.7 L519.5,144.5 L519.9,143.7 L520.4,140.4 L520.8,140.2 L521.3,139.6 L521.7,139.1 L522.2,136.6 L522.6,138.9 L523.1,135.7 L523.5,135.8 L524.0,134.6 L524.4,130.3 L524.9,130.2 L525.3,128.2 L525.8,126.3 L526.2,124.0 L526.7,127.5 L527.1,125.6 L527.6,132.3 L528.0,129.4 L528.5,125.1 L528.9,126.1 L529.4,123.5 L529.8,116.5 L530.3,112.4 L530.7,106.5 L531.2,106.8 L531.6,109.0 L532.1,108.1 L532.5,103.5 L533.0,104.2 L533.4,105.4 L533.9,102.1 L534.3,103.5 L534.8,104.3 L535.2,108.6 L535.7,107.4 L536.1,113.2 L536.6,120.7 L537.0,123.7 L537.5,130.2 L537.9,129.0 L538.4,120.5 L538.8,114.4 L539.3,110.5 L539.7,112.5 L540.2,111.2 L540.6,113.4 L541.1,112.8 L541.5,118.4 L542.0,118.4 L542.4,117.2 L542.9,113.3 L543.3,116.7 L543.8,116.4 L544.2,114.0 L544.7,116.1 L545.1,115.3 L545.6,114.1 L546.0,115.2 L546.5,119.1 L546.9,120.5 L547.4,122.0 L547.8,122.7 L548.3,122.3 L548.7,126.6 L549.2,127.6 L549.6,127.6 L550.1,127.9 L550.5,129.2 L551.0,126.3 L551.4,130.1 L551.9,128.4 L552.3,131.9 L552.8,130.2 L553.2,127.0 L553.7,125.4 L554.1,123.1 L554.6,124.9 L555.0,129.0 L555.5,130.2 L555.9,135.5 L556.4,130.5 L556.8,132.0 L557.3,134.9 L557.7,130.2 L558.2,122.8 L558.6,117.8 L559.1,114.4 L559.5,117.7 L560.0,117.5 L560.4,118.3 L560.9,123.4 L561.3,121.7 L561.8,121.7 L562.2,121.9 L562.7,122.5 L563.1,117.5 L563.6,118.6 L564.0,115.9 L564.5,118.7 L564.9,117.4 L565.4,112.7 L565.8,112.5 L566.3,109.6 L566.7,110.7 L567.2,110.5 L567.6,111.2 L568.1,108.6 L568.5,103.2 L569.0,107.1 L569.4,103.0 L569.9,102.3 L570.3,101.3 L570.8,104.2 L571.2,100.2 L571.7,99.9 L572.1,96.4 L572.6,89.7 L573.0,90.8 L573.5,91.9 L573.9,90.9 L574.4,89.7 L574.8,93.1 L575.3,93.1 L575.7,91.7 L576.2,90.5 L576.6,90.5 L577.1,89.5 L577.5,85.8 L578.0,85.5 L578.4,87.3 L578.9,88.1 L579.3,87.7 L579.8,86.9 L580.2,85.1 L580.7,85.7 L581.1,86.3 L581.6,84.3 L582.0,84.6 L582.5,84.1 L582.9,80.6 L583.4,82.2 L583.8,78.5 L584.3,76.0 L584.7,79.9 L585.2,72.1 L585.6,72.5 L586.1,73.8 L586.5,71.9 L587.0,69.9 L587.4,68.1 L587.9,69.5 L588.3,71.5 L588.8,72.1 L589.2,71.6 L589.7,71.9 L590.1,77.1 L590.6,79.3 L591.0,83.2 L591.5,82.6 L591.9,86.4 L592.4,83.1 L592.8,81.3 L593.3,84.1 L593.7,82.2 L594.2,82.2 L594.6,86.4 L595.1,86.1 L595.5,90.6 L596.0,90.2 L596.4,91.7 L596.9,89.5 L597.3,89.1 L597.8,88.5 L598.2,88.7 L598.7,85.4 L599.1,87.0 L599.6,86.4 L600.0,85.0 L600.5,84.2 L600.9,84.6 L601.4,83.6 L601.8,85.8 L602.3,83.0 L602.7,84.5 L603.2,88.9 L603.6,86.6 L604.1,85.2 L604.5,84.6 L605.0,83.3 L605.4,83.2 L605.9,82.6 L606.3,79.6 L606.8,76.8 L607.2,77.4 L607.7,73.7 L608.1,72.6 L608.6,73.7 L609.0,72.1 L609.5,70.0 L609.9,68.3 L610.4,68.1 L610.8,67.5 L611.3,69.1 L611.7,69.3 L612.2,68.0 L612.6,67.1 L613.1,65.0 L613.5,65.0 L614.0,64.2 L614.4,63.4 L614.9,63.2 L615.3,63.5 L615.8,68.9 L616.2,71.9 L616.7,68.9 L617.1,68.9 L617.6,68.6 L618.0,68.7 L618.5,65.0 L618.9,65.0 L619.4,65.0 L619.8,65.0 L620.3,65.3 L620.7,67.9 L621.2,66.2 L621.6,70.5 L622.1,69.2 L622.5,69.9 L623.0,69.3 L623.4,70.9 L623.9,70.8 L624.3,71.4 L624.8,71.5 L625.2,71.7 L625.7,71.6 L626.1,72.6 L626.6,72.2 L627.0,72.0 L627.5,76.6 L627.9,74.6 L628.4,76.7 L628.8,80.1 L629.3,77.7 L629.7,77.9 L630.2,76.0 L630.6,74.2 L631.1,75.9 L631.5,73.7 L632.0,73.0 L632.4,69.0 L632.9,71.2 L633.3,68.9 L633.8,66.2 L634.2,66.3 L634.7,64.9 L635.1,68.7 L635.6,64.8 L636.0,66.3 L636.5,64.6 L636.9,64.2 L637.4,63.7 L637.8,66.1 L638.3,64.2 L638.7,64.4 L639.2,65.6 L639.6,65.3 L640.1,66.6 L640.5,65.3 L641.0,64.1 L641.4,66.5 L641.9,68.2 L642.3,67.9 L642.8,66.4 L643.2,68.9 L643.7,69.1 L644.1,67.9 L644.6,68.9 L645.0,68.8 L645.5,68.5 L645.9,68.7 L646.4,68.6 L646.8,66.9 L647.3,66.1 L647.7,62.5 L648.2,62.8 L648.6,64.4 L649.1,62.8 L649.5,63.7 L650.0,63.0 L650.4,63.1 L650.9,62.9 L651.3,64.2 L651.8,63.0 L652.2,61.3 L652.7,58.2 L653.1,59.6 L653.6,56.8 L654.0,59.4 L654.5,56.4 L654.9,56.7 L655.4,58.1 L655.8,57.6 L656.3,60.4 L656.7,61.3 L657.2,60.0 L657.6,62.0 L658.1,70.6 L658.5,71.3 L659.0,71.3 L659.4,70.3 L659.9,71.3 L660.3,68.9 L660.8,68.6 L661.2,69.6 L661.7,68.9 L662.1,69.7 L662.6,73.8 L663.0,73.0 L663.5,71.1 L663.9,71.2 L664.4,70.8 L664.8,71.0 L665.3,75.7 L665.7,74.4 L666.2,75.8 L666.6,82.9 L667.1,83.4 L667.5,81.5 L668.0,82.3 L668.4,80.1 L668.9,80.0 L669.3,77.7 L669.8,78.9 L670.2,76.3 L670.7,76.0 L671.1,74.9 L671.6,75.4 L672.0,75.2 L672.5,74.7 L672.9,74.8 L673.4,72.0 L673.8,72.7 L674.3,71.7 L674.7,70.6 L675.2,68.8 L675.6,68.1 L676.1,69.0 L676.5,67.6 L677.0,66.5 L677.4,69.4 L677.9,70.1 L678.3,67.8 L678.8,71.2 L679.2,67.2 L679.7,71.0 L680.1,72.4 L680.6,71.3 L681.0,69.8 L681.5,70.5 L681.9,69.7 L682.4,66.5 L682.8,66.4 L683.3,68.3 L683.7,68.4 L684.2,66.3 L684.6,65.7 L685.1,67.3 L685.5,66.2 L686.0,66.2 L686.4,67.0 L686.9,68.6 L687.3,66.2 L687.8,70.1 L688.2,69.7 L688.7,70.8 L689.1,68.3 L689.6,67.9 L690.0,69.3 L690.5,75.5 L690.9,76.2 L691.4,78.5 L691.8,83.7 L692.3,85.2 L692.7,84.9 L693.2,84.8 L693.6,86.3 L694.1,85.6 L694.5,83.8 L695.0,89.8 L695.4,92.2 L695.9,92.1 L696.3,94.9 L696.8,97.4 L697.2,96.4 L697.7,95.9 L698.1,114.7 L698.6,110.7 L699.0,108.5 L699.5,101.5 L699.9,105.0 L700.4,107.9 L700.8,106.0 L701.3,113.4 L701.7,113.9 L702.2,121.1 L702.6,115.5 L703.1,125.3 L703.5,127.6 L704.0,120.7 L704.4,108.8 L704.9,117.1 L705.3,111.4 L705.8,108.9 L706.2,107.7 L706.7,103.9 L707.1,103.9 L707.6,105.4 L708.0,108.5 L708.5,111.8 L708.9,114.1 L709.4,112.6 L709.8,114.6 L710.3,119.6 L710.7,115.7 L711.2,120.3 L711.6,119.5 L712.1,122.6 L712.5,123.9 L713.0,121.0 L713.4,117.0 L713.9,114.9 L714.3,112.6 L714.8,113.8 L715.2,110.0 L715.7,111.7 L716.1,111.7 L716.6,110.1 L717.0,109.8 L717.5,112.0 L717.9,112.3 L718.4,112.6 L718.8,112.9 L719.3,112.5 L719.7,112.3 L720.2,115.9 L720.6,116.4 L721.1,116.5 L721.5,122.5 L722.0,120.4 L722.4,122.7 L722.9,127.4 L723.3,128.5 L723.8,129.4 L724.2,129.5 L724.7,130.1 L725.1,119.5 L725.6,116.2 L726.0,115.6 L726.5,114.9 L726.9,116.4 L727.4,114.3 L727.8,116.6 L728.3,113.7 L728.7,115.0 L729.2,114.4 L729.6,116.2 L730.1,117.6 L730.5,115.9 L731.0,112.3 L731.4,108.2 L731.9,103.8 L732.3,105.6 L732.8,105.6 L733.2,107.1 L733.7,104.1 L734.1,105.5 L734.6,105.0 L735.0,109.6 L735.5,108.3 L735.9,108.6 L736.4,114.1 L736.8,114.4 L737.3,116.0 L737.7,116.4 L738.2,119.2 L738.6,119.1 L739.1,119.8 L739.5,120.1 L740.0,126.8 L740.4,131.6 L740.9,130.0 L741.3,136.9 L741.8,132.5 L742.2,128.8 L742.7,125.2 L743.1,120.0 L743.6,123.3 L744.0,121.3 L744.5,122.2 L744.9,128.9 L745.4,129.2 L745.8,131.3 L746.3,129.8 L746.7,126.0 L747.2,124.4 L747.6,125.1 L748.1,122.9 L748.5,121.7 L749.0,121.7 L749.4,118.2 L749.9,116.3 L750.3,117.0 L750.8,122.2 L751.2,122.2 L751.7,125.1 L752.1,125.1 L752.6,125.1 L753.0,122.3 L753.5,118.5 L753.9,117.5 L754.4,118.8 L754.8,117.3 L755.3,116.8 L755.7,118.6 L756.2,118.5 L756.6,116.3 L757.1,117.6 L757.5,121.3 L758.0,122.1 L758.4,120.1 L758.9,123.7 L759.3,119.8 L759.8,122.9 L760.2,123.4 L760.7,125.8 L761.1,123.4 L761.6,123.4 L762.0,124.4 L762.5,125.6 L762.9,122.2 L763.4,123.5 L763.8,122.4 L764.3,121.6 L764.7,120.0 L765.2,121.7 L765.6,122.5 L766.1,123.7 L766.5,124.1 L767.0,124.4 L767.4,123.8 L767.9,125.7 L768.3,127.6 L768.8,127.4 L769.2,128.3 L769.7,129.3 L770.1,129.1 L770.6,128.6 L771.0,127.8 L771.5,130.5 L771.9,129.4 L772.4,129.4 L772.8,129.8 L773.3,130.9 L773.7,131.3 L774.2,129.7 L774.6,131.1 L775.1,134.0 L775.5,132.3 L776.0,133.6 L776.4,133.1 L776.9,132.6 L777.3,132.1 L777.8,133.6 L778.2,133.2 L778.7,127.5 L779.1,128.8 L779.6,128.3 L780.0,124.9 L780.5,126.0 L780.9,124.0 L781.4,126.8 L781.8,122.0 L782.3,123.7 L782.7,120.2 L783.2,119.2 L783.6,122.3 L784.1,116.3 L784.5,113.0 L785.0,108.8 L785.4,108.7 L785.9,111.0 L786.3,108.3 L786.8,107.2 L787.2,106.9 L787.7,105.2 L788.1,103.9 L788.6,105.1 L789.0,104.4 L789.5,102.5 L789.9,102.5 L790.4,103.4 L790.8,100.4 L791.3,102.1 L791.7,102.5 L792.2,100.3 L792.6,100.3 L793.1,98.7 L793.5,106.2 L794.0,107.8 L794.4,105.8 L794.9,106.3 L795.3,108.9 L795.8,106.3 L796.2,110.3 L796.7,111.3 L797.1,105.9 L797.6,104.0 L798.0,108.4 L798.5,103.5 L798.9,102.8 L799.4,100.5 L799.8,95.5 L800.3,99.7 L800.7,100.7 L801.2,95.3 L801.6,93.5 L802.1,96.2 L802.5,92.2 L803.0,92.7 L803.4,91.2 L803.9,91.2 L804.3,91.1 L804.8,90.0 L805.2,90.0 L805.7,91.5 L806.1,90.7 L806.6,90.0 L807.0,93.8 L807.5,92.6 L807.9,90.2 L808.4,91.5 L808.8,90.8 L809.3,89.7 L809.7,89.8 L810.2,88.8 L810.6,88.4 L811.1,91.3 L811.5,90.1 L812.0,91.3 L812.4,87.9 L812.9,88.7 L813.3,89.2 L813.8,91.5 L814.2,92.2 L814.7,94.5 L815.1,94.8 L815.6,92.8 L816.0,92.4 L816.5,91.6 L816.9,89.5 L817.4,85.0 L817.8,84.5 L818.3,86.2 L818.7,84.8 L819.2,86.7 L819.6,84.0 L820.1,83.9 L820.5,83.0 L821.0,84.3 L821.4,86.9 L821.9,88.3 L822.3,88.2 L822.8,88.4 L823.2,87.9 L823.7,85.9 L824.1,87.6 L824.6,86.3 L825.0,87.0 L825.5,86.6 L825.9,87.5 L826.4,85.7 L826.8,87.5 L827.3,87.1 L827.7,89.4 L828.2,87.9 L828.6,87.8 L829.1,85.8 L829.5,89.3 L830.0,88.6 L830.4,84.7 L830.9,87.4 L831.3,87.5 L831.8,85.9 L832.2,87.5 L832.7,85.3 L833.1,84.6 L833.6,84.9 L834.0,82.6 L834.5,84.1 L834.9,82.3 L835.4,83.1 L835.8,84.1 L836.3,82.0 L836.7,80.8 L837.2,83.5 L837.6,81.3 L838.1,82.0 L838.5,81.1 L839.0,81.2 L839.4,86.9 L839.9,85.8 L840.3,83.2 L840.8,88.9 L841.2,89.6 L841.7,89.5 L842.1,91.1 L842.6,93.3 L843.0,94.4 L843.5,94.0 L843.9,93.3 L844.4,93.3 L844.8,92.5 L845.3,91.6 L845.7,92.4 L846.2,93.8 L846.6,92.3 L847.1,93.1 L847.5,94.3 L848.0,92.7 L848.4,93.8 L848.9,92.2 L849.3,92.6 L849.8,87.3 L850.2,86.8 L850.7,88.9 L851.1,88.9 L851.6,88.3 L852.0,88.7 L852.5,86.3 L852.9,87.6 L853.4,88.3 L853.8,90.8 L854.3,88.3 L854.7,92.3 L855.2,95.9 L855.6,99.3 L856.1,99.9 L856.5,101.5 L857.0,103.9 L857.4,103.9 L857.9,99.0 L858.3,95.9 L858.8,97.9 L859.2,100.4 L859.7,100.3 L860.1,99.4 L860.6,97.1 L861.0,100.0 L861.5,99.2 L861.9,102.3 L862.4,101.2 L862.8,102.6 L863.3,99.4 L863.7,101.7 L864.2,98.8 L864.6,99.8 L865.1,100.3 L865.5,98.4 L866.0,97.6 L866.4,100.7 L866.9,101.6 L867.3,100.6 L867.8,101.8 L868.2,99.8 L868.7,98.8 L869.1,92.9 L869.6,92.2 L870.0,90.3 L870.5,91.2 L870.9,88.9 L871.4,86.7 L871.8,86.4 L872.3,83.8 L872.7,87.7 L873.2,86.3 L873.6,85.0 L874.1,83.3 L874.5,80.8 L875.0,77.5 L875.4,75.8 L875.9,75.1 L876.3,75.2 L876.8,72.6 L877.2,73.6 L877.7,74.4 L878.1,73.8 L878.6,73.5 L879.0,75.1 L879.5,72.5 L879.9,71.9 L880.4,73.4 L880.8,71.7 L881.3,73.9 L881.7,70.6 L882.2,70.5 L882.6,72.6 L883.1,68.8 L883.5,71.7 L884.0,71.5 L884.4,71.6 L884.9,72.6 L885.3,68.9 L885.8,69.4 L886.2,66.2 L886.7,67.6 L887.1,62.4 L887.6,62.6 L888.0,60.6 L888.5,60.0 L888.9,62.8 L889.4,61.8 L889.8,63.1 L890.3,58.5 L890.7,59.0 L891.2,58.4 L891.6,59.9 L892.1,56.2 L892.5,58.0 L893.0,58.7 L893.4,56.4 L893.9,55.3 L894.3,53.3 L894.8,51.7 L895.2,54.4 L895.7,56.7 L896.1,60.1 L896.6,60.1 L897.0,59.0 L897.5,62.3 L897.9,60.4 L898.4,59.0 L898.8,60.8 L899.3,60.0 L899.7,61.4 L900.2,60.1 L900.6,58.7 L901.1,59.4 L901.5,60.1 L902.0,65.8 L902.4,61.0 L902.9,61.8 L903.3,67.6 L903.5,66.3" fill="none" stroke="#26262a" stroke-width="0.98" stroke-linejoin="round" stroke-linecap="round"/>
<rect x="426.5" y="83.5" width="236.5" height="59.5" fill="#aeb9d2" fill-opacity="0.10" stroke="#2c2c30" stroke-width="0.8"/>
<line x1="315.5" y1="89.5" x2="413" y2="89.5" stroke="#3c3c3c" stroke-width="1"/>
<path d="M418.8,89.5 L411.8,86.8 L411.8,92.2 Z" fill="#3c3c3c"/>
<ellipse cx="901.9" cy="124.3" rx="15" ry="11.2" fill="#bd66f0" fill-opacity="0.5" stroke="#1c1424" stroke-width="1"/>
<ellipse cx="777.7" cy="272.4" rx="15" ry="11.2" fill="#bd66f0" fill-opacity="0.5" stroke="#1c1424" stroke-width="1"/>
<line x1="902.7" y1="136.5" x2="902.7" y2="166.5" stroke="#111" stroke-width="1.2" stroke-dasharray="5 3.4"/>
<line x1="777.3" y1="284.2" x2="777.3" y2="314.2" stroke="#111" stroke-width="1.2" stroke-dasharray="5 3.4"/>
<text class="an" x="127" y="80.5" font-size="18.2" stroke="#0a0a0a" stroke-width="0.25" textLength="192.6" lengthAdjust="spacingAndGlyphs">Колеблется около 95%</text>
<text class="an" x="127" y="101.2" font-size="18.2" stroke="#0a0a0a" stroke-width="0.25" textLength="172.8" lengthAdjust="spacingAndGlyphs">в течение 7 месяцев</text>
<text class="an" x="887.3" y="186.6" font-size="19.2">92%</text>
<text class="an" x="759.3" y="335.3" font-size="19.2">65%</text>
<text class="yl" x="31.8" y="88.1" textLength="23.2" lengthAdjust="spacingAndGlyphs">100%</text>
<text class="yl" x="31.8" y="142.1" textLength="19.7" lengthAdjust="spacingAndGlyphs">90%</text>
<text class="yl" x="31.8" y="196.1" textLength="19.7" lengthAdjust="spacingAndGlyphs">80%</text>
<text class="yl" x="31.8" y="249.9" textLength="19.7" lengthAdjust="spacingAndGlyphs">70%</text>
<text class="yl" x="31.8" y="303.6" textLength="19.7" lengthAdjust="spacingAndGlyphs">60%</text>
<text class="yl" x="31.8" y="357.8" textLength="19.7" lengthAdjust="spacingAndGlyphs">50%</text>
<text class="yl" x="31.8" y="412.4" textLength="19.7" lengthAdjust="spacingAndGlyphs">40%</text>
<text class="rl" x="904.7" y="105.1" textLength="22.5" lengthAdjust="spacingAndGlyphs">$40k</text>
<text class="rl" x="906.3" y="247.8" textLength="20.9" lengthAdjust="spacingAndGlyphs">$10k</text>
<text class="rl" x="910.8" y="299.2" textLength="16.4" lengthAdjust="spacingAndGlyphs">$6k</text>
<text class="rl" x="910.9" y="412.4" textLength="16.3" lengthAdjust="spacingAndGlyphs">$2k</text>
<text class="xl" x="41.7" y="429.7" textLength="32.9" lengthAdjust="spacingAndGlyphs">Jan '20</text>
<text class="xl" x="117.8" y="429.7" textLength="33.8" lengthAdjust="spacingAndGlyphs">Mar '20</text>
<text class="xl" x="194.8" y="429.7" textLength="35.4" lengthAdjust="spacingAndGlyphs">May '20</text>
<text class="xl" x="275.2" y="429.7" textLength="29.0" lengthAdjust="spacingAndGlyphs">Jul '20</text>
<text class="xl" x="351.0" y="429.7" textLength="33.9" lengthAdjust="spacingAndGlyphs">Sep '20</text>
<text class="xl" x="427.7" y="429.7" textLength="35.2" lengthAdjust="spacingAndGlyphs">Nov '20</text>
<text class="xl" x="507.6" y="429.7" textLength="31.2" lengthAdjust="spacingAndGlyphs">Jan '21</text>
<text class="xl" x="581.5" y="429.7" textLength="32.5" lengthAdjust="spacingAndGlyphs">Mar '21</text>
<text class="xl" x="657.9" y="429.7" textLength="34.4" lengthAdjust="spacingAndGlyphs">May '21</text>
<text class="xl" x="738.7" y="429.7" textLength="27.7" lengthAdjust="spacingAndGlyphs">Jul '21</text>
<text class="xl" x="815.7" y="429.7" textLength="32.3" lengthAdjust="spacingAndGlyphs">Sep '21</text>
<circle cx="723" cy="26.3" r="3.3" fill="#f09a3e"/>
<text class="lg" x="730.5" y="30" textLength="105.2" lengthAdjust="spacingAndGlyphs">Percent Supply in Profit</text>
<circle cx="865" cy="26.3" r="3.3" fill="#77787c"/>
<text class="lg" x="872.5" y="30" textLength="50.8" lengthAdjust="spacingAndGlyphs">Price [USD]</text>
<text x="20.2" y="467" font-size="11" fill="#7d7f86" textLength="199.8" lengthAdjust="spacingAndGlyphs">© 2021 Glassnode. All Rights Reserved.</text>
<text x="837.3" y="469.1" font-size="22.5" fill="#0b0b0b" stroke="#0b0b0b" stroke-width="0.5" textLength="103" lengthAdjust="spacingAndGlyphs">glassnode</text>
</svg></body></html>
